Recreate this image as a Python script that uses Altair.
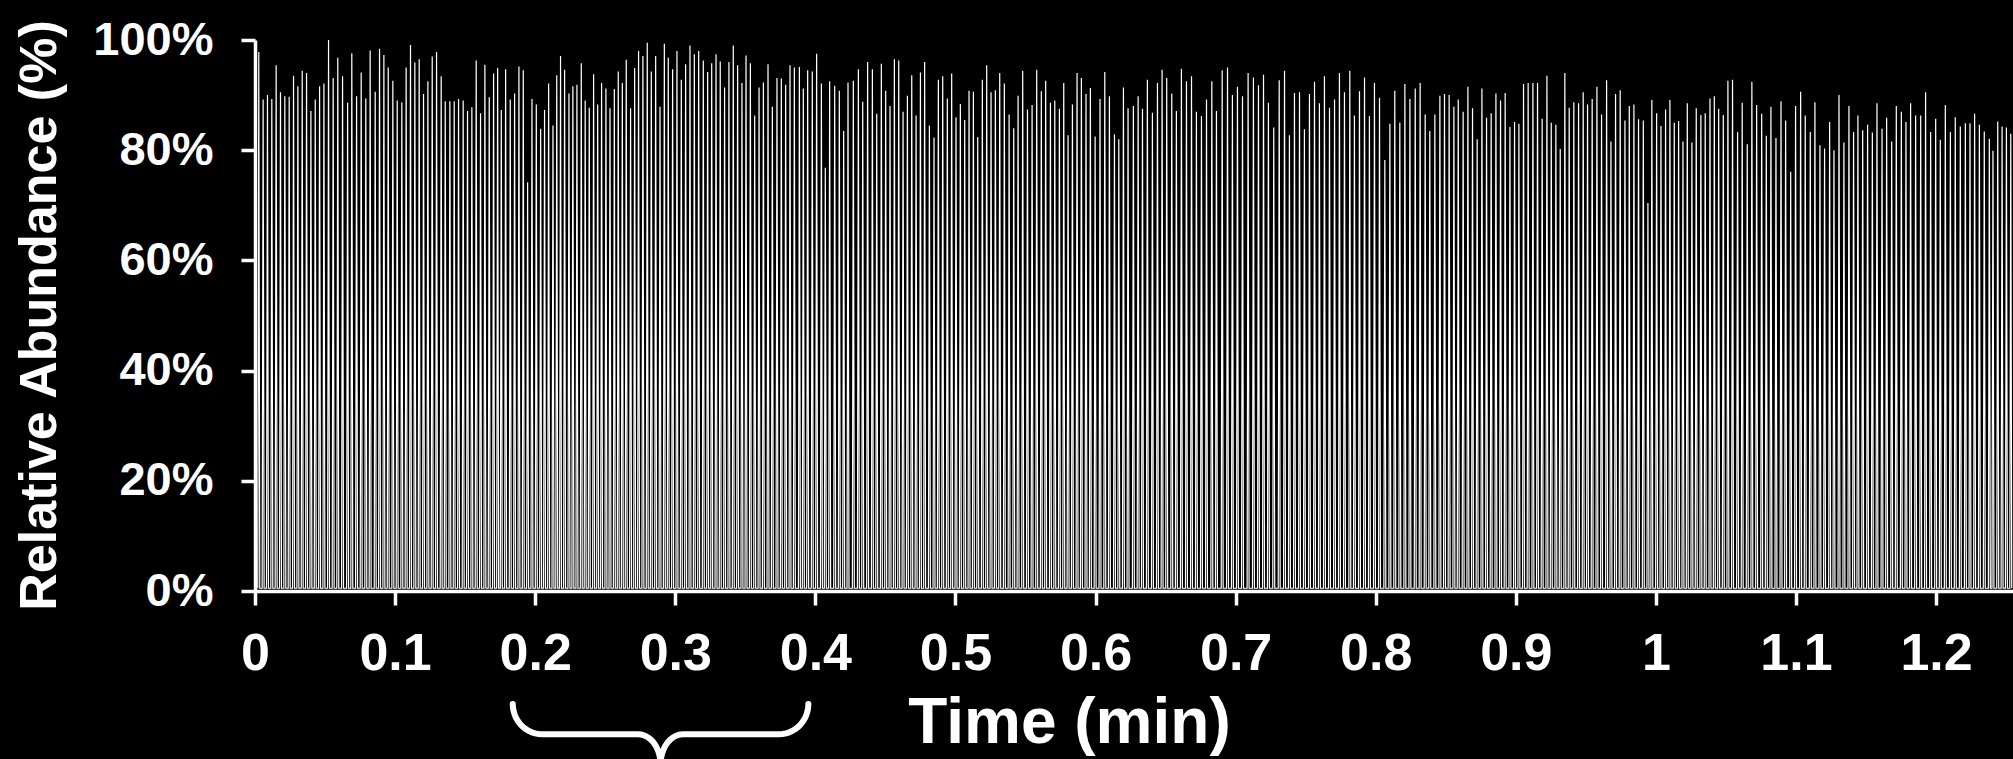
import altair as alt
import numpy as np
import pandas as pd

# ---- peak apex times (min) and heights (% relative abundance) ----
seg1_times = [0.0027, 0.0058, 0.0089, 0.0120, 0.0151, 0.0182, 0.0213, 0.0244, 0.0275, 0.0306,
              0.0337, 0.0368, 0.0399, 0.0430, 0.0461, 0.0492, 0.0525, 0.0558, 0.0591, 0.0625,
              0.0661, 0.0691, 0.0725, 0.0758, 0.0791, 0.0822, 0.0858, 0.0889, 0.0920, 0.0951,
              0.0984, 0.1015, 0.1048, 0.1079, 0.1110, 0.1141, 0.1172, 0.1203, 0.1234, 0.1265,
              0.1296, 0.1329, 0.1358, 0.1391, 0.1422, 0.1453, 0.1486, 0.1517, 0.1548, 0.1579,
              0.1610, 0.1641, 0.1672, 0.1703, 0.1732, 0.1758, 0.1789, 0.1822, 0.1853, 0.1884,
              0.1915, 0.1946, 0.1977, 0.2008, 0.2039, 0.2067, 0.2096, 0.2127]
seg1_heights = [97.8, 89.2, 90.0, 89.3, 95.4, 90.5, 89.8, 89.7, 93.5, 91.6,
                94.4, 94.0, 87.1, 89.2, 91.6, 92.1, 100.0, 93.1, 96.8, 93.4,
                88.6, 97.6, 89.8, 94.1, 89.4, 98.1, 90.6, 98.4, 97.3, 95.0,
                92.6, 89.0, 88.7, 95.0, 99.1, 95.9, 96.5, 90.2, 92.5, 97.0,
                97.8, 93.4, 88.9, 88.9, 88.9, 89.3, 89.0, 87.1, 87.8, 96.3,
                86.7, 95.5, 89.6, 93.9, 94.9, 87.3, 94.7, 89.2, 90.3, 95.2,
                94.5, 74.2, 89.3, 88.3, 83.9, 87.3, 92.1, 84.5]

seg2_times = [0.2154, 0.2181, 0.2210, 0.2241, 0.2269, 0.2298, 0.2329, 0.2357, 0.2386, 0.2417,
              0.2446, 0.2474, 0.2505, 0.2534, 0.2565, 0.2593, 0.2622, 0.2650, 0.2681, 0.2710,
              0.2738, 0.2769, 0.2800, 0.2829, 0.2860, 0.2891, 0.2922, 0.2950, 0.2981, 0.3012,
              0.3043, 0.3074, 0.3105, 0.3136, 0.3167, 0.3200, 0.3231, 0.3260, 0.3291, 0.3321,
              0.3352, 0.3383, 0.3414, 0.3445, 0.3476, 0.3505, 0.3536, 0.3567, 0.3598, 0.3629,
              0.3662, 0.3693, 0.3726, 0.3757, 0.3788, 0.3819, 0.3850, 0.3886, 0.3914, 0.3945,
              0.3978, 0.4009, 0.4043, 0.4071, 0.4102, 0.4138, 0.4171, 0.4202, 0.4233, 0.4271]
seg2_heights = [93.6, 97.1, 94.6, 90.3, 91.6, 91.9, 95.8, 89.0, 87.7, 93.8,
                88.3, 92.2, 91.2, 87.6, 91.1, 94.3, 92.2, 96.4, 87.6, 94.9,
                98.0, 97.1, 99.5, 94.3, 97.1, 87.9, 99.3, 96.8, 94.7, 98.0,
                92.8, 95.6, 99.0, 97.4, 98.0, 96.3, 94.2, 95.8, 97.4, 96.1,
                91.4, 96.0, 99.0, 95.4, 92.2, 97.2, 95.8, 86.3, 91.4, 92.3,
                95.6, 87.9, 93.1, 93.0, 91.9, 95.4, 95.0, 95.1, 91.2, 94.5,
                94.3, 97.5, 92.1, 76.8, 92.5, 91.7, 90.8, 83.5, 92.3, 92.6]

seg3_times = [0.4307, 0.4338, 0.4373, 0.4407, 0.4438, 0.4471, 0.4502, 0.4533, 0.4564, 0.4595,
              0.4626, 0.4657, 0.4688, 0.4719, 0.4750, 0.4780, 0.4814, 0.4847, 0.4878, 0.4909,
              0.4942, 0.4973, 0.5004, 0.5035, 0.5066, 0.5097, 0.5128, 0.5159, 0.5192, 0.5223,
              0.5254, 0.5285, 0.5316, 0.5349, 0.5383, 0.5416, 0.5447, 0.5480, 0.5514, 0.5547,
              0.5580, 0.5613, 0.5644, 0.5678, 0.5709, 0.5742, 0.5773, 0.5804, 0.5835, 0.5868,
              0.5899, 0.5932, 0.5963, 0.5997, 0.6032, 0.6066, 0.6099, 0.6135, 0.6166, 0.6199,
              0.6232, 0.6270, 0.6304, 0.6335, 0.6370, 0.6406]
seg3_heights = [94.7, 88.8, 96.0, 94.7, 86.6, 95.7, 90.8, 88.0, 96.5, 96.3,
                87.0, 89.9, 93.6, 86.3, 94.1, 96.0, 84.5, 82.3, 92.8, 93.4,
                89.4, 93.9, 86.0, 88.4, 85.5, 90.8, 90.6, 82.4, 92.8, 95.4,
                90.5, 90.9, 94.0, 92.1, 86.5, 84.0, 89.9, 94.4, 87.4, 88.2,
                94.6, 90.7, 92.6, 88.6, 89.0, 87.5, 92.2, 82.7, 88.3, 94.0,
                93.1, 90.2, 91.3, 82.5, 89.3, 94.2, 89.8, 82.9, 82.0, 91.4,
                87.6, 88.0, 89.8, 87.5, 92.8, 86.8]

seg4_times = [0.6442, 0.6475, 0.6508, 0.6544, 0.6577, 0.6613, 0.6649, 0.6685, 0.6720, 0.6756,
              0.6792, 0.6830, 0.6863, 0.6904, 0.6942, 0.6977, 0.7013, 0.7049, 0.7089, 0.7127,
              0.7163, 0.7199, 0.7234, 0.7272, 0.7311, 0.7349, 0.7384, 0.7420, 0.7456, 0.7491,
              0.7527, 0.7563, 0.7598, 0.7634, 0.7670, 0.7706, 0.7741, 0.7777, 0.7815, 0.7848,
              0.7884, 0.7920, 0.7955, 0.7991, 0.8027, 0.8065, 0.8101, 0.8136, 0.8172, 0.8208,
              0.8244, 0.8282, 0.8317, 0.8353, 0.8386, 0.8422, 0.8458, 0.8491, 0.8524, 0.8558]
seg4_heights = [92.2, 94.6, 93.1, 90.3, 87.1, 94.8, 92.5, 93.4, 87.0, 86.2,
                89.2, 92.5, 87.1, 94.5, 95.0, 90.0, 91.5, 89.8, 94.0, 93.2,
                91.8, 93.7, 88.6, 84.1, 92.7, 94.4, 82.7, 90.4, 90.5, 83.8,
                90.2, 92.4, 88.5, 93.4, 87.7, 89.2, 94.0, 90.5, 94.4, 86.3,
                90.7, 93.2, 86.2, 92.2, 89.5, 78.2, 84.8, 90.8, 85.0, 92.0,
                89.3, 91.2, 92.2, 86.5, 83.5, 86.5, 89.9, 90.2, 90.0, 87.9]

seg5_times = [0.8589, 0.8624, 0.8658, 0.8691, 0.8724, 0.8758, 0.8791, 0.8824, 0.8858, 0.8891,
              0.8924, 0.8958, 0.8991, 0.9022, 0.9055, 0.9088, 0.9122, 0.9155, 0.9188, 0.9222,
              0.9253, 0.9286, 0.9317, 0.9350, 0.9381, 0.9414, 0.9448, 0.9481, 0.9512, 0.9545,
              0.9579, 0.9612, 0.9648, 0.9679, 0.9712, 0.9745, 0.9779, 0.9810, 0.9843, 0.9876,
              0.9910, 0.9943, 0.9971, 1.0005, 1.0036, 1.0069, 1.0100, 1.0131, 1.0162, 1.0193,
              1.0224, 1.0257, 1.0288, 1.0321, 1.0352, 1.0386, 1.0417, 1.0448, 1.0481, 1.0514,
              1.0547, 1.0583, 1.0616, 1.0652, 1.0685]
seg5_heights = [89.2, 87.0, 91.5, 87.6, 82.0, 91.2, 85.9, 86.7, 90.3, 89.0,
                90.4, 84.2, 85.1, 84.8, 92.0, 92.2, 92.2, 92.2, 85.7, 93.5,
                85.0, 84.6, 80.2, 94.0, 87.7, 88.7, 88.5, 90.5, 88.3, 89.3,
                91.5, 86.5, 92.7, 81.6, 90.2, 90.9, 85.4, 88.0, 88.3, 85.6,
                85.4, 70.4, 89.1, 86.7, 84.4, 87.4, 89.1, 85.0, 85.3, 81.6,
                88.5, 81.4, 87.6, 86.4, 86.7, 89.4, 89.8, 87.5, 86.4, 92.6,
                92.8, 83.3, 88.6, 81.1, 92.4]

seg6_times = [1.0719, 1.0755, 1.0788, 1.0821, 1.0857, 1.0893, 1.0926, 1.0962, 1.0997, 1.1033,
              1.1066, 1.1102, 1.1135, 1.1171, 1.1204, 1.1240, 1.1271, 1.1307, 1.1342, 1.1378,
              1.1411, 1.1442, 1.1476, 1.1511, 1.1545, 1.1578, 1.1614, 1.1647, 1.1683, 1.1716,
              1.1752, 1.1785, 1.1818, 1.1854, 1.1890, 1.1925, 1.1961, 1.1997, 1.2030, 1.2066,
              1.2102, 1.2137, 1.2173, 1.2209, 1.2242, 1.2275, 1.2309, 1.2344, 1.2380, 1.2406,
              1.2440, 1.2471, 1.2502, 1.2533]
seg6_heights = [88.2, 86.6, 82.6, 87.9, 82.2, 88.9, 85.4, 76.1, 88.0, 90.6,
                86.3, 83.3, 88.7, 80.9, 80.3, 85.1, 80.0, 90.0, 81.4, 88.0,
                83.3, 86.3, 83.6, 84.6, 83.2, 88.5, 83.9, 85.9, 81.6, 88.0,
                87.0, 85.1, 88.5, 86.3, 86.3, 90.5, 83.3, 85.7, 81.9, 88.2,
                83.3, 86.0, 84.3, 84.9, 84.9, 86.6, 84.6, 83.4, 82.1, 79.9,
                85.2, 84.3, 84.1, 83.0]

BASELINE = 0.5            # % level between peaks
X_DOMAIN = [0, 1.2549]    # visible time range (min)
Y_DOMAIN = [0, 100]
X_TICKS = [0, 0.1, 0.2, 0.3, 0.4, 0.5, 0.6, 0.7, 0.8, 0.9, 1.0, 1.1, 1.2]
Y_TICKS = [0, 20, 40, 60, 80, 100]

# brace annotation under 0.2 - 0.4 min (time range and levels below the axis, in %)
BRACE_T0, BRACE_T1 = 0.184, 0.395
BRACE_TOP, BRACE_MID, BRACE_TIP = -20.5, -26.0, -31.5

FONT = "Liberation Sans"
WHITE = "#ffffff"

# ---- build the trace: narrow triangular peaks on a flat baseline ----
HALF_W = 0.0007
times = seg1_times + seg2_times + seg3_times + seg4_times + seg5_times + seg6_times
heights = seg1_heights + seg2_heights + seg3_heights + seg4_heights + seg5_heights + seg6_heights
rows = []
o = 0
for t, h in zip(times, heights):
    for tt, vv in ((t - HALF_W, BASELINE), (t, h), (t + HALF_W, BASELINE)):
        rows.append({"t": tt, "v": vv, "o": o})
        o += 1
trace = pd.DataFrame(rows)

# ---- brace path ----
rx, ry = 0.021, BRACE_TOP - BRACE_MID
rx2, ry2 = 0.016, BRACE_MID - BRACE_TIP
tc = (BRACE_T0 + BRACE_T1) / 2
pts = []
def arc(cx, cy, ax, ay, a0, a1, n=14):
    for a in np.linspace(a0, a1, n):
        pts.append((cx + ax * np.cos(a), cy + ay * np.sin(a)))
arc(BRACE_T0 + rx, BRACE_TOP, rx, ry, np.pi, 1.5 * np.pi)
arc(tc - rx2, BRACE_MID - ry2, rx2, ry2, 0.5 * np.pi, 0.0)
arc(tc + rx2, BRACE_MID - ry2, rx2, ry2, np.pi, 0.5 * np.pi)
arc(BRACE_T1 - rx, BRACE_TOP, rx, ry, 1.5 * np.pi, 2 * np.pi)
brace = pd.DataFrame({"t": [p[0] for p in pts], "v": [p[1] for p in pts],
                      "o": list(range(len(pts)))})

x_enc = alt.X("t:Q", scale=alt.Scale(domain=X_DOMAIN, nice=False, zero=False),
              axis=alt.Axis(values=X_TICKS, labelExpr="format(datum.value, '.1~f')",
                            title="Time (min)", titleFontSize=64, titleX=814, titleY=151,
                            titleAlign="center", titleBaseline="alphabetic",
                            labelFontSize=52, labelPadding=23, labelFlush=False))
y_enc = alt.Y("v:Q", scale=alt.Scale(domain=Y_DOMAIN, nice=False),
              axis=alt.Axis(values=Y_TICKS, labelExpr="datum.value + '%'",
                            title="Relative Abundance (%)", titleFontSize=52,
                            titleAngle=270, titleX=-200, titleY=275,
                            titleAlign="center", titleBaseline="alphabetic",
                            labelFontSize=47, labelPadding=28, labelFlush=False))

peaks = alt.Chart(trace).mark_line(color=WHITE, strokeWidth=1.2).encode(
    x=x_enc, y=y_enc, order="o:Q")

brace_layer = alt.Chart(brace).mark_line(color=WHITE, strokeWidth=6, strokeCap="round",
                                         strokeJoin="round", clip=False).encode(
    x="t:Q", y="v:Q", order="o:Q")

chart = alt.layer(peaks, brace_layer).properties(
    width=1758, height=551,
    padding={"left": 255, "top": 40, "right": 0, "bottom": 168},
    autosize=alt.AutoSizeParams(type="none"),
    background="#000000",
).configure_view(stroke=None).configure_axis(
    grid=False, domainColor=WHITE, domainWidth=3.5, tickColor=WHITE, tickWidth=3.5,
    tickSize=14, labelColor=WHITE, labelFont=FONT, labelFontWeight="bold",
    titleColor=WHITE, titleFont=FONT, titleFontWeight="bold",
)

chart.save("out.html", embed_options={"renderer": "svg", "actions": False})
